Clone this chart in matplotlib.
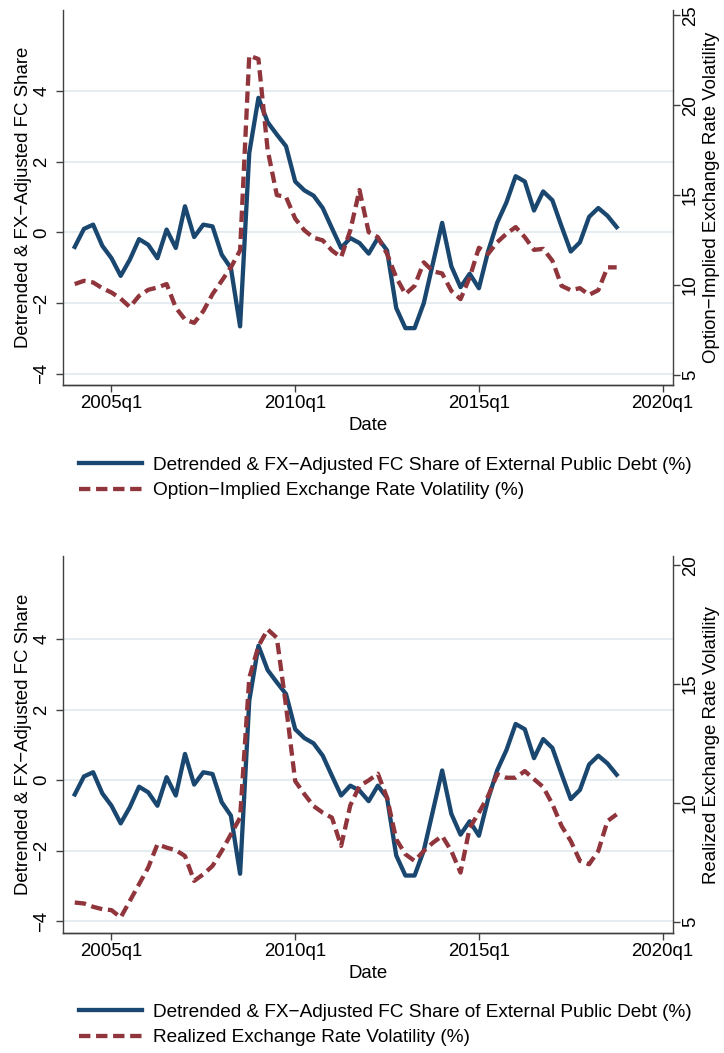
import matplotlib
matplotlib.use('Agg')
import matplotlib.pyplot as plt
import numpy as np
import pandas as pd
from matplotlib.lines import Line2D

plt.rcParams['font.family'] = ['Liberation Sans', 'DejaVu Sans']
plt.rcParams['axes.unicode_minus'] = True

# ---------------- data ----------------
quarters = pd.period_range('2004Q1', '2018Q4', freq='Q')

fc_share = [-0.41, 0.10, 0.22, -0.38, -0.73, -1.23, -0.77, -0.19, -0.35, -0.73,
            0.08, -0.44, 0.74, -0.13, 0.22, 0.17, -0.63, -1.01, -2.66, 2.25,
            3.81, 3.12, 2.77, 2.44, 1.44, 1.19, 1.04, 0.69, 0.12, -0.44,
            -0.16, -0.30, -0.60, -0.16, -0.51, -2.14, -2.71, -2.71, -2.00, -0.87,
            0.27, -0.96, -1.55, -1.17, -1.58, -0.54, 0.28, 0.85, 1.59, 1.44,
            0.62, 1.16, 0.91, 0.17, -0.54, -0.28, 0.44, 0.69, 0.47, 0.15]

implied_vol = [10.05, 10.23, 10.14, 9.82, 9.58, 9.24, 8.77, 9.39, 9.73, 9.86,
               10.05, 8.74, 8.08, 7.89, 8.55, 9.49, 10.23, 10.98, 11.92, 22.76,
               22.57, 17.52, 15.00, 14.90, 13.69, 13.04, 12.63, 12.48, 11.92, 11.54,
               13.04, 15.28, 12.94, 12.66, 11.73, 10.42, 9.49, 9.95, 11.26, 10.76,
               10.64, 9.67, 9.21, 10.42, 12.07, 11.73, 12.38, 12.85, 13.22, 12.66,
               11.95, 12.01, 11.35, 9.95, 9.71, 9.82, 9.45, 9.71, 10.98, 10.98]

realized_vol = [5.81, 5.77, 5.63, 5.53, 5.49, 5.18, 5.88, 6.58, 7.28, 8.26,
                8.12, 8.01, 7.77, 6.72, 7.00, 7.35, 7.98, 8.68, 9.38, 15.26,
                16.60, 17.30, 16.95, 14.08, 10.92, 10.37, 9.87, 9.59, 9.38, 8.19,
                9.90, 10.71, 10.95, 11.23, 10.22, 8.47, 7.84, 7.56, 7.98, 8.33,
                8.61, 7.98, 7.07, 8.96, 9.59, 10.29, 11.21, 11.06, 11.06, 11.34,
                11.00, 10.67, 9.95, 9.03, 8.40, 7.56, 7.42, 7.98, 9.24, 9.52]

xtick_values = [2005, 2010, 2015, 2020]
xtick_labels = ['2005q1', '2010q1', '2015q1', '2020q1']
left_ticks = [-4, -2, 0, 2, 4]
right_ticks_top = [5, 10, 15, 20, 25]
right_ticks_bottom = [5, 10, 15, 20]

left_title = 'Detrended & FX\u2212Adjusted FC Share'
right_title_top = 'Option\u2212Implied Exchange Rate Volatility'
right_title_bottom = 'Realized Exchange Rate Volatility'
legend_fc = 'Detrended & FX\u2212Adjusted FC Share of External Public Debt (%)'
legend_top = 'Option\u2212Implied Exchange Rate Volatility (%)'
legend_bottom = 'Realized Exchange Rate Volatility (%)'

x = np.asarray(quarters.year + (quarters.quarter - 1) / 4.0, dtype=float)

# ---------------- style ----------------
BLUE = '#1a476f'
RED = '#90353b'
GRID = '#e4ecef'
AXC = '#404040'
FS = 13.4
LFS = 13.7
LW = 3.1
DASH = (0, (2.64, 1.32))

W, H = 724, 1053
fig = plt.figure(figsize=(W / 100, H / 100), dpi=100)


def rect(l, t, r, b):
    return [l / W, 1 - b / H, (r - l) / W, (b - t) / H]


def panel(box, vol, rtitle, rticks, lylim, rylim, leg2, leg_y):
    l, t, r, b = box
    ax = fig.add_axes(rect(l, t, r, b))
    ax2 = ax.twinx()
    ax.plot(x, fc_share, color=BLUE, lw=LW, zorder=3)
    ax2.plot(x, vol, color=RED, lw=LW, linestyle=DASH, dash_capstyle='butt', zorder=3)

    ax.set_xlim(2003.672, 2020.275)
    ax.set_ylim(*lylim)
    ax2.set_ylim(*rylim)

    for a in (ax, ax2):
        a.spines['top'].set_visible(False)
        for s in a.spines.values():
            s.set_color(AXC)
            s.set_linewidth(1.0)
    ax.spines['right'].set_visible(False)
    ax2.spines['left'].set_visible(False)

    ax.set_xticks(xtick_values, xtick_labels)
    ax.tick_params(axis='x', length=5, width=1, color=AXC, pad=2, labelsize=FS)
    ax.set_yticks(left_ticks)
    ax.tick_params(axis='y', length=5, width=1, color=AXC, pad=4, labelsize=FS,
                   labelrotation=90)
    ax2.set_yticks(rticks)
    ax2.tick_params(axis='y', length=5, width=1, color=AXC, pad=1.5, labelsize=FS,
                    labelrotation=90)
    for lbl in ax.get_yticklabels():
        lbl.set_va('center')
    for lbl in ax2.get_yticklabels():
        lbl.set_va('center')

    ax.grid(axis='y', color=GRID, lw=1.3)
    ax.grid(axis='x', visible=False)
    ax.set_axisbelow(True)

    aw, ah = r - l, b - t
    ax.set_xlabel('Date', fontsize=FS)
    ax.xaxis.set_label_coords(0.5, -40.0 / ah)
    ax.xaxis.label.set_va('center')

    ax.set_ylabel(left_title, fontsize=FS)
    ax.yaxis.set_label_coords((24 - l) / aw, 0.5)
    ax.yaxis.label.set_va('center')

    ax2.set_ylabel(rtitle, fontsize=FS, rotation=90)
    ax2.yaxis.set_label_coords((711 - l) / aw, 0.5)
    ax2.yaxis.label.set_va('center')

    handles = [Line2D([], [], color=BLUE, lw=LW),
               Line2D([], [], color=RED, lw=LW, linestyle=DASH, dash_capstyle='butt')]
    ax.legend(handles, [legend_fc, leg2], loc='center left',
              bbox_to_anchor=(79 / W, 1 - leg_y / H), bbox_transform=fig.transFigure,
              frameon=False, fontsize=LFS, handlelength=62.5 / (LFS * 100 / 72),
              handletextpad=0.58, borderpad=0, borderaxespad=0, labelspacing=0.42)
    return ax, ax2


panel((62.7, 10, 672.7, 385), implied_vol, right_title_top, right_ticks_top,
      (-4.319, 6.295), (4.433, 25.30), legend_top, (465 + 490.7) / 2)
panel((62.7, 556, 672.7, 933.3), realized_vol, right_title_bottom, right_ticks_bottom,
      (-4.349, 6.355), (4.515, 20.39), legend_bottom, (1011.7 + 1038.3) / 2)

fig.savefig('out.png', dpi=100)
